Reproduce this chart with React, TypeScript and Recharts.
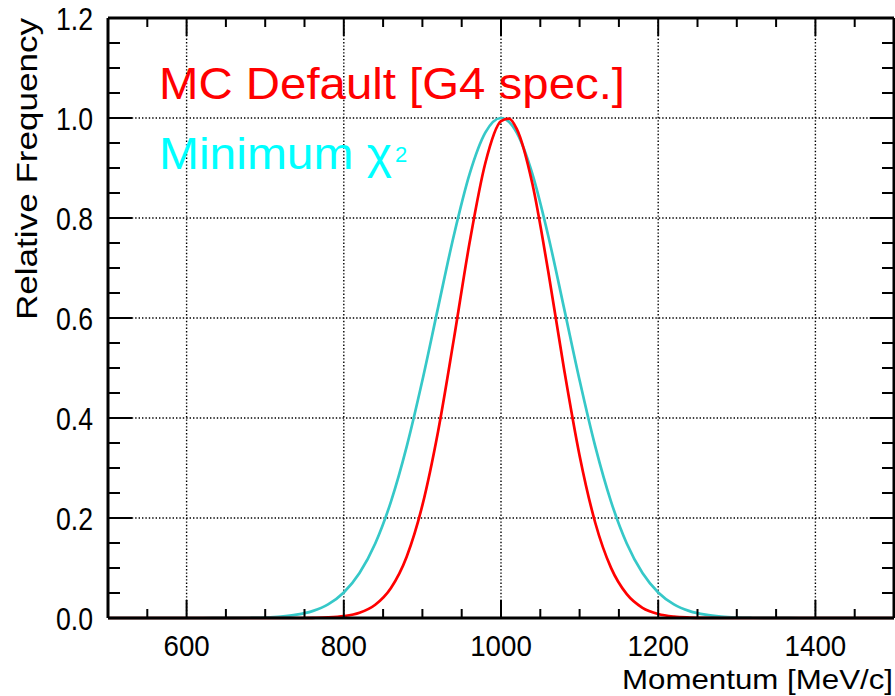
import { LineChart, Line, XAxis, YAxis, ReferenceLine } from "recharts"

// momentum bins [MeV/c]
const momentum = [
  500, 520, 540, 560, 580, 600, 620, 640, 660, 680, 700, 720, 740, 760, 780, 800, 820, 840, 860, 880,
  900, 920, 940, 960, 980, 1000, 1010, 1020, 1040, 1060, 1080, 1100, 1120, 1140, 1160, 1180, 1200,
  1220, 1240, 1260, 1280, 1300, 1320, 1340, 1360, 1380, 1400, 1420, 1440, 1460, 1480, 1500,
]

// MC Default [G4 spec.]
const mcDefault = [
  0, 0, 0, 0, 0, 0, 0, 0, 0, 0, 0, 0, 0, 0.0004, 0.0012, 0.0038, 0.0106, 0.0266, 0.0601, 0.1227,
  0.2256, 0.3736, 0.5577, 0.7503, 0.9095, 0.9936, 0.9988, 0.9783, 0.8679, 0.6939, 0.5, 0.3247, 0.19,
  0.1002, 0.0476, 0.0204, 0.0079, 0.0027, 0.0009, 0.0002, 0, 0, 0, 0, 0, 0, 0, 0, 0, 0, 0, 0,
]

// Minimum chi^2
const minChi2 = [
  0, 0, 0, 0, 0, 0, 0, 0.0001, 0.0002, 0.0005, 0.0012, 0.0029, 0.0066, 0.0138, 0.0273, 0.0511, 0.0899,
  0.149, 0.2328, 0.3427, 0.4754, 0.6213, 0.7651, 0.8878, 0.9707, 1.0, 0.9926, 0.9707, 0.8878, 0.7651,
  0.6213, 0.4754, 0.3427, 0.2328, 0.149, 0.0899, 0.0511, 0.0273, 0.0138, 0.0066, 0.0029, 0.0012,
  0.0005, 0.0002, 0.0001, 0, 0, 0, 0, 0, 0, 0,
]

const xTicks = [
  500, 550, 600, 650, 700, 750, 800, 850, 900, 950, 1000, 1050, 1100, 1150, 1200, 1250, 1300, 1350,
  1400, 1450, 1500,
]
const xLabels = [600, 800, 1000, 1200, 1400]
const yTicks = [
  0, 0.05, 0.1, 0.15, 0.2, 0.25, 0.3, 0.35, 0.4, 0.45, 0.5, 0.55, 0.6, 0.65, 0.7, 0.75, 0.8, 0.85,
  0.9, 0.95, 1.0, 1.05, 1.1, 1.15, 1.2,
]
const yLabels = [0, 0.2, 0.4, 0.6, 0.8, 1.0, 1.2]

const data = momentum.map((m, i) => ({ momentum: m, mc: mcDefault[i], chi2: minChi2[i] }))

const FONT = "'Liberation Sans', Arial, Helvetica, sans-serif"
const isMajorY = (v: number) => yLabels.some(l => Math.abs(l - v) < 1e-6)

function BottomTick(props: any) {
  const { x, y, payload } = props
  const v = payload.value
  const major = xLabels.includes(v)
  return (
    <g>
      <line x1={x} x2={x} y1={y} y2={y - (major ? 18 : 9)} stroke="#000" strokeWidth={2} />
      {major && (
        <text
          x={x}
          y={y + 38}
          textAnchor="middle"
          fontSize={30}
          fontFamily={FONT}
          fill="#000"
          textLength={String(v).length * 15.4}
          lengthAdjust="spacingAndGlyphs"
        >
          {v}
        </text>
      )}
    </g>
  )
}

function TopTick(props: any) {
  const { x, y, payload } = props
  const major = xLabels.includes(payload.value)
  return <line x1={x} x2={x} y1={y} y2={y + (major ? 18 : 9)} stroke="#000" strokeWidth={2} />
}

function LeftTick(props: any) {
  const { x, y, payload } = props
  const v = payload.value
  const major = isMajorY(v)
  return (
    <g>
      <line x1={x} x2={x + (major ? 24 : 12)} y1={y} y2={y} stroke="#000" strokeWidth={2} />
      {major && (
        <text
          x={x - 15}
          y={y + 11.5}
          textAnchor="end"
          fontSize={31}
          fontFamily={FONT}
          fill="#000"
          textLength={37}
          lengthAdjust="spacingAndGlyphs"
        >
          {v.toFixed(1)}
        </text>
      )}
    </g>
  )
}

function RightTick(props: any) {
  const { x, y, payload } = props
  const major = isMajorY(payload.value)
  return <line x1={x} x2={x - (major ? 24 : 12)} y1={y} y2={y} stroke="#000" strokeWidth={2} />
}

export default function App() {
  return (
    <div style={{ position: "absolute", left: 0, top: 0, width: 895, height: 696, background: "#fff" }}>
      <LineChart
        width={895}
        height={696}
        data={data}
        margin={{ top: 17, right: 0, bottom: 77, left: 107 }}
        style={{ fontFamily: FONT }}
      >
        <XAxis
          dataKey="momentum"
          type="number"
          domain={[500, 1500]}
          ticks={xTicks}
          interval={0}
          height={1}
          tickSize={0}
          tickMargin={0}
          tickLine={false}
          axisLine={{ stroke: "#000", strokeWidth: 3 }}
          tick={BottomTick}
        />
        <XAxis
          xAxisId="top"
          orientation="top"
          dataKey="momentum"
          type="number"
          domain={[500, 1500]}
          allowDataOverflow
          ticks={xTicks}
          interval={0}
          height={1}
          tickSize={0}
          tickMargin={0}
          tickLine={false}
          axisLine={{ stroke: "#000", strokeWidth: 3 }}
          tick={TopTick}
        />
        <YAxis
          type="number"
          domain={[0, 1.2]}
          ticks={yTicks}
          interval={0}
          width={1}
          tickSize={0}
          tickMargin={0}
          tickLine={false}
          axisLine={{ stroke: "#000", strokeWidth: 3 }}
          tick={LeftTick}
        />
        <YAxis
          yAxisId="right"
          orientation="right"
          type="number"
          domain={[0, 1.2]}
          allowDataOverflow
          ticks={yTicks}
          interval={0}
          width={1}
          tickSize={0}
          tickMargin={0}
          tickLine={false}
          axisLine={{ stroke: "#000", strokeWidth: 3 }}
          tick={RightTick}
        />
        {xLabels.map(v => (
          <ReferenceLine key={"gx" + v} x={v} stroke="#000" strokeWidth={1.4} strokeDasharray="1.4 2" />
        ))}
        {yLabels
          .filter(v => v > 0 && v < 1.2)
          .map(v => (
            <ReferenceLine key={"gy" + v} y={v} stroke="#000" strokeWidth={1.4} strokeDasharray="1.4 2" />
          ))}
        <Line
          type="monotone"
          dataKey="chi2"
          stroke="#36c8c8"
          strokeWidth={2.7}
          dot={false}
          activeDot={false}
          isAnimationActive={false}
        />
        <Line
          type="monotone"
          dataKey="mc"
          stroke="#ff0000"
          strokeWidth={2.7}
          dot={false}
          activeDot={false}
          isAnimationActive={false}
        />
      </LineChart>
      <svg
        width={895}
        height={696}
        style={{ position: "absolute", left: 0, top: 0, pointerEvents: "none" }}
        fontFamily={FONT}
      >
        <text x={159} y={99} fontSize={44} fill="#ff0000" textLength={466} lengthAdjust="spacingAndGlyphs">
          MC Default [G4 spec.]
        </text>
        <text x={159} y={169} fontSize={44} fill="#00ffff" textLength={233} lengthAdjust="spacingAndGlyphs">
          Minimum χ
        </text>
        <text x={395} y={162} fontSize={22} fill="#00ffff">
          2
        </text>
        <text
          transform="translate(37,18) rotate(-90)"
          textAnchor="end"
          fontSize={30}
          fill="#000"
          textLength={302}
          lengthAdjust="spacingAndGlyphs"
        >
          Relative Frequency
        </text>
        <text
          x={893}
          y={689}
          textAnchor="end"
          fontSize={28}
          fill="#000"
          textLength={271}
          lengthAdjust="spacingAndGlyphs"
        >
          Momentum [MeV/c]
        </text>
      </svg>
    </div>
  )
}
